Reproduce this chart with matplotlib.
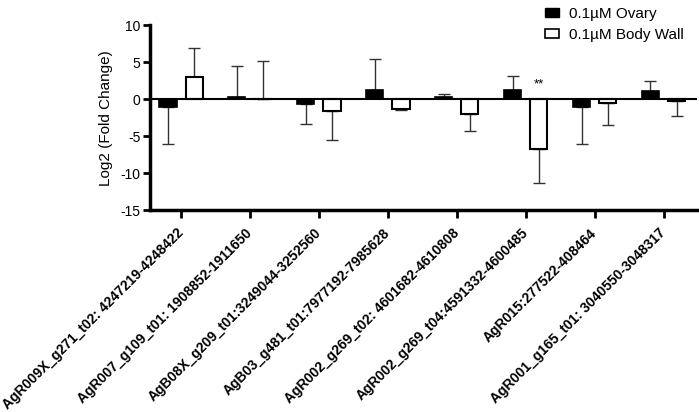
import numpy as np
import matplotlib.pyplot as plt
from matplotlib.patches import Patch

plt.rcParams['font.family'] = ['Liberation Sans', 'DejaVu Sans']
plt.rcParams['axes.unicode_minus'] = False

genes = [
    "AgR009X_g271_t02: 4247219-4248422",
    "AgR007_g109_t01: 1908852-1911650",
    "AgB08X_g209_t01:3249044-3252560",
    "AgB03_g481_t01:7977192-7985628",
    "AgR002_g269_t02: 4601682-4610808",
    "AgR002_g269_t04:4591332-4600485",
    "AgR015:277522-408464",
    "AgR001_g165_t01: 3040550-3048317",
]
ovary = [-1.1, 0.3, -0.7, 1.3, 0.3, 1.2, -1.0, 1.05]
ovary_err = [4.9, 4.2, 2.7, 4.1, 0.45, 1.95, 5.1, 1.35]
body_wall = [3.0, 0.05, -1.6, -1.35, -2.05, -6.8, -0.55, -0.3]
body_wall_err = [3.9, 5.05, 3.9, 0.1, 2.25, 4.6, 2.95, 1.95]
signif = {5: "**"}

x = np.arange(len(genes))
w = 0.25
off = 0.19

fig = plt.figure(figsize=(6.99, 4.12), dpi=100)
ax = fig.add_axes([0.2146, 0.490, 0.782, 0.449])

ax.bar(x - off, ovary, w, color="black", edgecolor="black", linewidth=1.2, zorder=3)
ax.bar(x + off, body_wall, w, color="white", edgecolor="black", linewidth=1.5, zorder=3)

# one-sided error bars, pointing away from zero
def one_sided(vals, errs):
    lo = [e if v < 0 else 0 for v, e in zip(vals, errs)]
    hi = [e if v >= 0 else 0 for v, e in zip(vals, errs)]
    return [lo, hi]

ax.errorbar(x - off, ovary, yerr=one_sided(ovary, ovary_err), fmt="none",
            ecolor="#333333", elinewidth=1, capsize=4.5, capthick=1, zorder=2)
ax.errorbar(x + off, body_wall, yerr=one_sided(body_wall, body_wall_err), fmt="none",
            ecolor="#333333", elinewidth=1, capsize=4.5, capthick=1, zorder=2)

ax.axhline(0, color="black", linewidth=1.5, zorder=4)

for i, s in signif.items():
    ax.text(x[i] + off, 1.2, s, ha="center", va="bottom", fontsize=9.5)

ax.set_xlim(-0.45, 7.48)
ax.set_ylim(-15, 10)
ax.set_yticks([-15, -10, -5, 0, 5, 10])
ax.set_xticks(x)
ax.set_xticklabels(genes, rotation=45, ha="right", va="center", rotation_mode="anchor",
                   fontsize=10, fontweight="bold")
ax.tick_params(axis="y", labelsize=10, width=2, length=5, pad=2)
ax.tick_params(axis="x", width=2, length=6, pad=9)
ax.set_ylabel("Log2 (Fold Change)", fontsize=11, labelpad=5)

for side in ["top", "right"]:
    ax.spines[side].set_visible(False)
for side in ["left", "bottom"]:
    ax.spines[side].set_linewidth(2.5)

handles = [Patch(facecolor="black", edgecolor="black", label="0.1µM Ovary"),
           Patch(facecolor="white", edgecolor="black", linewidth=1.2, label="0.1µM Body Wall")]
fig.legend(handles=handles, loc="upper left", bbox_to_anchor=(0.76, 1.017), frameon=False,
           fontsize=11, handlelength=0.9, handleheight=0.55, handletextpad=0.7, labelspacing=0.45)

fig.savefig("out.png", dpi=100)
